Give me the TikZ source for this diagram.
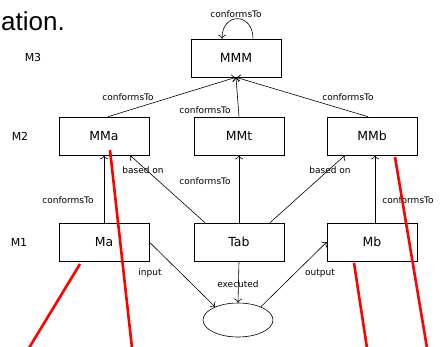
\documentclass[tikz,border=0pt]{standalone}
\usepackage{fontspec}
\setmainfont{DejaVu Sans}
\newfontfamily\slidefont{Liberation Sans}
\usetikzlibrary{shapes.geometric,arrows.meta,positioning,calc}
\definecolor{markred}{RGB}{255,0,0}
\tikzset{
    model/.style={rectangle, draw, semithick, minimum width=90pt, minimum height=38pt, align=center, font=\fontsize{12.5}{14}\selectfont},
    level/.style={font=\fontsize{11}{13}\selectfont},
    lbl/.style={font=\fontsize{9}{11}\selectfont, inner sep=1pt},
    conf/.style={semithick, -{To[length=4pt,width=8pt]}},
    run/.style={semithick, -{To[length=4pt,width=8pt]}},
    redline/.style={line width=2.6pt, color=markred}
}
\begin{document}
\begin{tikzpicture}[x=1pt,y=-1pt]
    \useasboundingbox (0,0) rectangle (441,346);
    % slide text
    \node[anchor=base west, inner sep=0pt, font=\slidefont\fontsize{26}{30}\selectfont] (slide) at (1,30) {ation.};

    % levels
    \node[level] (m3) at (33,57) {M3};
    \node[level] (m2) at (20,136) {M2};
    \node[level] (m1) at (19,242) {M1};

    % models
    \node[model] (mmm) at (236,58) {MMM};
    \node[model] (mma) at (104,136) {MMa};
    \node[model] (mmt) at (239,136) {MMt};
    \node[model] (mmb) at (372,136) {MMb};
    \node[model] (ma) at (104,242) {Ma};
    \node[model] (tab) at (239,242) {Tab};
    \node[model] (mb) at (372,242) {Mb};
    \node[ellipse, draw, semithick, minimum width=70pt, minimum height=34pt] (ex) at (238,320) {};

    % conformsTo
    \draw[conf] ([xshift=17pt]mmm.north) to[out=90,in=90,looseness=2.2] ([xshift=-14pt]mmm.north);
    \draw[conf] ([xshift=4pt]mma.north) -- (mmm.south);
    \draw[conf] (mmt.north) -- (mmm.south);
    \draw[conf] ([xshift=-4pt]mmb.north) -- (mmm.south);
    \draw[conf] (ma.north) -- (mma.south);
    \draw[conf] (tab.north) -- (mmt.south);
    \draw[conf] ([xshift=3pt]mb.north) -- ([xshift=3pt]mmb.south);

    % based on
    \draw[conf] ([xshift=-34pt]tab.north) -- ([xshift=26pt]mma.south);
    \draw[conf] ([xshift=31pt]tab.north) -- ([xshift=-27pt]mmb.south);

    % execution
    \draw[run] (ma.east) -- (ex.150);
    \draw[run] (tab.south) -- (ex.north);
    \draw[run] (ex.30) -- (mb.west);

    % labels
    \node[lbl] (c0) at (236,14) {conformsTo};
    \node[lbl] (c1) at (128,97) {conformsTo};
    \node[lbl] (c2) at (205,110) {conformsTo};
    \node[lbl] (c3) at (348,97) {conformsTo};
    \node[lbl] (c4) at (68,200) {conformsTo};
    \node[lbl] (c5) at (205,181) {conformsTo};
    \node[lbl] (c6) at (408,200) {conformsTo};
    \node[lbl] (b1) at (143,170) {based on};
    \node[lbl] (b2) at (330,170) {based on};
    \node[lbl] (in) at (150,273) {input};
    \node[lbl] (exl) at (238,284) {executed};
    \node[lbl] (out) at (320,273) {output};

    % red marks
    \draw[redline] (80,264) -- (29,348);
    \draw[redline] (110,150) -- (132,348);
    \draw[redline] (354,263) -- (367,348);
    \draw[redline] (395,157) -- (427,348);
\end{tikzpicture}
\end{document}
